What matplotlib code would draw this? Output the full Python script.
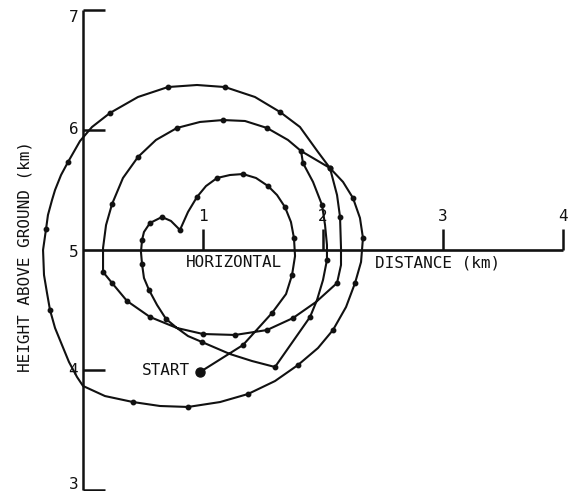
import matplotlib
matplotlib.use("Agg")
import matplotlib.pyplot as plt

# Trajectory (horizontal distance km, height km)
path_x = [0.975, 1.333, 1.575, 1.692, 1.742, 1.767, 1.758, 1.733, 1.683, 1.617,
          1.542, 1.442, 1.333, 1.225, 1.117, 1.025, 0.950, 0.875, 0.808, 0.733,
          0.658, 0.558, 0.508, 0.492, 0.483, 0.492, 0.508, 0.550, 0.617, 0.692,
          0.783, 0.875, 0.992, 1.225, 1.408, 1.600, 1.892, 1.950, 2.000, 2.033,
          2.033, 2.017, 1.992, 1.917, 1.833, 1.817, 1.708, 1.533, 1.350, 1.167,
          0.975, 0.783, 0.608, 0.458, 0.333, 0.242, 0.192, 0.167, 0.167, 0.242,
          0.367, 0.558, 0.783, 1.000, 1.267, 1.533, 1.750, 1.942, 2.117, 2.150,
          2.150, 2.142, 2.117, 2.058, 1.958, 1.808, 1.642, 1.433, 1.183, 0.950,
          0.708, 0.458, 0.225, 0.075, -0.025, -0.125, -0.183, -0.233, -0.258, -0.292,
          -0.308, -0.333, -0.325, -0.300,
          -0.275, -0.233, -0.175, -0.117, -0.050, 0.000, 0.183, 0.417, 0.642, 0.875,
          1.142, 1.375,
          1.600, 1.792, 1.958, 2.083, 2.192, 2.267, 2.317, 2.333, 2.308, 2.250,
          2.167, 2.058, 1.817]
path_y = [3.983, 4.208, 4.475, 4.633, 4.792, 4.950, 5.100, 5.233, 5.358, 5.458,
          5.533, 5.600, 5.633, 5.625, 5.600, 5.533, 5.442, 5.317, 5.167, 5.242,
          5.275, 5.225, 5.150, 5.083, 4.983, 4.883, 4.767, 4.667, 4.542, 4.425,
          4.350, 4.283, 4.233, 4.133, 4.075, 4.025, 4.442, 4.583, 4.750, 4.917,
          5.042, 5.208, 5.375, 5.567, 5.725, 5.825, 5.917, 6.017, 6.075, 6.083,
          6.067, 6.017, 5.917, 5.775, 5.600, 5.383, 5.208, 5.017, 4.817, 4.725,
          4.575, 4.442, 4.350, 4.300, 4.292, 4.333, 4.433, 4.567, 4.725, 4.875,
          5.017, 5.275, 5.458, 5.683, 5.817, 6.025, 6.150, 6.275, 6.358, 6.375,
          6.358, 6.275, 6.142, 6.025, 5.908, 5.733, 5.625, 5.500, 5.417, 5.292,
          5.175, 5.000, 4.792, 4.642,
          4.500, 4.350, 4.208, 4.067, 3.942, 3.867, 3.783, 3.733, 3.700, 3.692,
          3.733, 3.800,
          3.908, 4.042, 4.183, 4.333, 4.525, 4.725, 4.900, 5.100, 5.267, 5.433,
          5.567, 5.683, 5.825]
# 1 = plotted observation dot, 0 = point on the connecting curve
dot = [1, 1, 1, 0, 1, 0, 1, 0, 1, 0,
       1, 0, 1, 0, 1, 0, 1, 0, 1, 0,
       1, 1, 0, 1, 0, 1, 0, 1, 0, 1,
       0, 0, 1, 0, 0, 1, 1, 0, 0, 1,
       0, 0, 1, 0, 1, 1, 0, 1, 0, 1,
       0, 1, 0, 1, 0, 1, 0, 0, 1, 1,
       1, 1, 0, 1, 1, 1, 1, 0, 1, 0,
       0, 1, 0, 1, 0, 0, 1, 0, 1, 0,
       1, 0, 1, 0, 0, 1, 0, 0, 0, 0,
       1, 0, 0, 0,
       1, 0, 0, 0, 0, 0, 0, 1, 0, 1,
       0, 1,
       0, 1, 0, 1, 0, 1, 0, 1, 0, 1,
       0, 1, 0]

x_ticks = [1, 2, 3, 4]
x_tick_labels = ["1", "2", "3", "4"]
y_ticks = [7, 6, 4, 3]
y_label_vals = [7, 6, 5, 4, 3]
y_label_pos = [6.94, 6.0, 4.98, 4.0, 3.05]

plt.rcParams['font.family'] = ['DejaVu Sans Mono', 'DejaVu Sans']
ink = '#111111'
fs = 11.5

fig = plt.figure(figsize=(5.75, 4.91), dpi=100)
ax = fig.add_axes([0, 0, 1, 1])
ax.set_xlim(-0.6917, 4.1)
ax.set_ylim(2.9917, 7.0833)
ax.axis('off')

# axes drawn as lines through the origin (0 km, 5 km)
ax.plot([0, 0], [3, 7], color=ink, lw=1.8, solid_capstyle='butt')
ax.plot([0, 4], [5, 5], color=ink, lw=1.9, solid_capstyle='butt')
for t in y_ticks:
    ax.plot([0, 0.183], [t, t], color=ink, lw=1.8, solid_capstyle='butt')
for t, lab in zip(x_ticks, x_tick_labels):
    ax.plot([t, t], [5, 5.175], color=ink, lw=1.8, solid_capstyle='butt')
    ax.text(t, 5.28, lab, ha='center', va='center', fontsize=fs, color=ink)
for v, p in zip(y_label_vals, y_label_pos):
    ax.text(-0.04, p, str(v), ha='right', va='center', fontsize=fs, color=ink)

idx = [i for i, d in enumerate(dot) if d]
ax.plot(path_x, path_y, '-', color=ink, lw=1.5, marker='o', ms=3.2,
        markevery=idx, solid_joinstyle='round')
ax.plot(path_x[0], path_y[0], 'o', color=ink, ms=6.5)

ax.text(path_x[0] - 0.085, path_y[0] + 0.01, "START", ha='right', va='center',
        fontsize=fs, color=ink)
ax.text(1.258, 4.90, "HORIZONTAL", ha='center', va='center', fontsize=fs, color=ink)
ax.text(2.954, 4.888, "DISTANCE (km)", ha='center', va='center', fontsize=fs, color=ink)
ax.text(-0.483, 4.95, "HEIGHT ABOVE GROUND (km)", rotation=90, ha='center',
        va='center', fontsize=fs, color=ink)

fig.savefig("out.png", dpi=100)
